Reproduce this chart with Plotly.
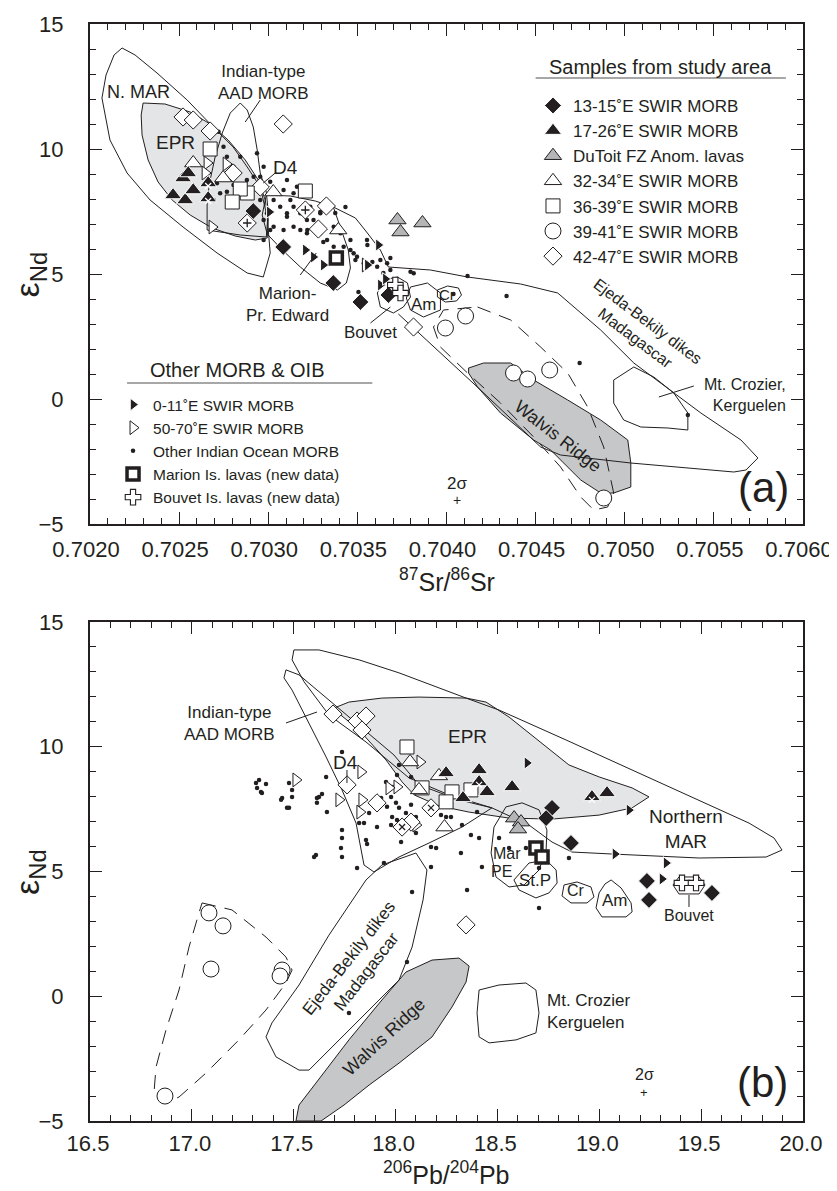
import plotly.graph_objects as go

FONT = "Liberation Sans, Arial, Helvetica, sans-serif"
INK = "#231f20"

# ---------------- axis settings ----------------
SR_RANGE = [0.7020, 0.7060]
PB_RANGE = [16.5, 20.0]
ND_RANGE = [-5, 15]

# ---------------- panel (a): 87Sr/86Sr vs eNd ----------------
A_DIAM_FILL_X = [0.702916, 0.703084, 0.703365, 0.703517, 0.703674]
A_DIAM_FILL_Y = [7.52, 6.08, 4.64, 3.88, 4.16]
A_TRI_FILL_X = [0.702466, 0.702534, 0.702579, 0.702522, 0.702551, 0.702663, 0.702663]
A_TRI_FILL_Y = [8.16, 7.96, 8.36, 8.84, 9.04, 8.64, 8.04]
A_TRI_FILL_MARK = [0, 0, 0, 0, 0, 1, 1]
A_TRI_GRAY_X = [0.703725, 0.703742, 0.703865]
A_TRI_GRAY_Y = [7.16, 6.68, 7.04]
A_TRI_OPEN_X = [0.702579, 0.702747, 0.703028, 0.703393]
A_TRI_OPEN_Y = [9.44, 8.84, 8.28, 6.76]
A_SQ_X = [0.702674, 0.702882, 0.702843, 0.702798, 0.703208]
A_SQ_Y = [10.0, 8.24, 8.4, 7.88, 8.32]
A_CIRC_X = [0.703994, 0.704107, 0.704376, 0.704455, 0.704579, 0.704882]
A_CIRC_Y = [2.84, 3.32, 1.04, 0.80, 1.16, -3.96]
A_DIAM_OPEN_X = [0.702522, 0.702579, 0.702674, 0.703084, 0.702803, 0.702955,
                 0.703326, 0.703208, 0.703281, 0.702882, 0.703815]
A_DIAM_OPEN_Y = [11.28, 11.16, 10.72, 11.0, 9.04, 8.48, 7.72, 7.56, 6.8, 7.04, 2.88]
A_DIAM_OPEN_MARK = [0, 0, 0, 0, 0, 0, 0, 1, 0, 1, 0]
A_RT_FILL_X = [0.703006, 0.703208, 0.703253, 0.703309, 0.703618, 0.703556, 0.703629, 0.703657]
A_RT_FILL_Y = [7.48, 5.96, 5.68, 5.36, 6.16, 5.36, 4.56, 4.8]
A_RT_OPEN_X = [0.702657, 0.702646, 0.702764, 0.702685, 0.703545]
A_RT_OPEN_Y = [9.44, 9.04, 9.4, 6.88, 5.36]
A_MARION_X = [0.703382]
A_MARION_Y = [5.64]
A_BOUVET_X = [0.703713, 0.703742]
A_BOUVET_Y = [4.56, 4.24]
A_DOTS = [
    (0.702721, 10.69), (0.702749, 10.09), (0.702768, 9.69), (0.702843, 9.69), (0.702805, 9.29),
    (0.702937, 9.83), (0.702974, 9.29), (0.702955, 8.89), (0.703011, 8.69), (0.703049, 8.23),
    (0.703086, 8.36), (0.703142, 8.23), (0.703124, 7.96), (0.703142, 7.69), (0.703105, 7.43),
    (0.703067, 7.69), (0.702993, 7.43), (0.702974, 7.16), (0.703030, 6.89), (0.703086, 6.76),
    (0.703142, 6.89), (0.703180, 6.76), (0.703217, 6.63), (0.703254, 7.16), (0.703292, 6.63),
    (0.703330, 6.36), (0.703367, 6.09), (0.703461, 5.96), (0.703479, 5.83), (0.703554, 6.36),
    (0.703629, 5.56), (0.703667, 5.43), (0.703685, 5.16), (0.703461, 6.36), (0.703292, 7.43),
    (0.703236, 7.69), (0.703180, 7.43), (0.703161, 8.49), (0.703105, 8.76), (0.703030, 7.96),
    (0.702955, 7.96), (0.702712, 8.63), (0.702730, 8.23), (0.702693, 7.96), (0.702768, 8.29),
    (0.702805, 8.56), (0.702880, 8.76), (0.702918, 8.89), (0.703011, 6.76), (0.702974, 6.36),
    (0.703105, 7.29), (0.703217, 7.16), (0.703367, 6.89), (0.703405, 6.63), (0.703423, 6.09),
    (0.703498, 5.69), (0.703536, 5.43), (0.703611, 5.29), (0.703798, 5.09), (0.703816, 5.03),
    (0.703433, 7.68), (0.703292, 7.48), (0.703376, 7.44), (0.703219, 6.76), (0.703309, 6.28),
    (0.703556, 6.16), (0.703489, 5.56), (0.703584, 5.48), (0.703685, 5.64), (0.703646, 5.04),
    (0.704118, 4.92), (0.703506, 4.28), (0.704039, 4.20), (0.704337, 4.12), (0.704747, 1.44),
    (0.705354, -0.64),
]

# fields in panel (a)
A_NMAR_X = [0.702180, 0.702253, 0.702376, 0.702545, 0.702691, 0.702803, 0.702882, 0.702955,
            0.702994, 0.703011, 0.702972, 0.702882, 0.702713, 0.702522, 0.702337, 0.702208,
            0.702112, 0.702067, 0.702090, 0.702135]
A_NMAR_Y = [14.04, 13.76, 13.04, 11.96, 10.88, 10.08, 9.28, 8.48, 7.28, 5.84, 4.88, 5.04,
            5.84, 6.88, 7.96, 9.04, 10.36, 12.04, 12.96, 13.76]
A_EPR_X = [0.702298, 0.702421, 0.702562, 0.702674, 0.702775, 0.702871, 0.702944, 0.702983,
           0.703000, 0.702994, 0.702927, 0.702815, 0.702685, 0.702562, 0.702461, 0.702382,
           0.702326, 0.702292, 0.702287]
A_EPR_Y = [11.84, 11.80, 11.48, 11.0, 10.36, 9.56, 8.76, 7.96, 7.16, 6.44, 6.36, 6.52, 6.84,
           7.36, 7.96, 8.68, 9.56, 10.56, 11.36]
A_AAD_X = [0.702843, 0.702882, 0.702916, 0.702938, 0.702955, 0.702989, 0.703000, 0.702989,
           0.702843, 0.702657, 0.702657, 0.702674, 0.702702, 0.702742, 0.702787]
A_AAD_Y = [11.84, 11.56, 10.88, 9.96, 9.04, 8.28, 7.48, 6.48, 6.56, 6.76, 7.96, 8.76, 9.68,
           10.64, 11.44]
A_MPE_X = [0.702989, 0.703124, 0.703264, 0.703365, 0.703410, 0.703449, 0.703461, 0.703438,
           0.703388, 0.703292, 0.703180, 0.703079, 0.702994, 0.702966]
A_MPE_Y = [8.16, 8.12, 7.92, 7.68, 6.76, 5.96, 5.24, 4.64, 4.36, 4.64, 5.28, 5.96, 6.6, 7.36]
A_EJEDA_X = [0.703365, 0.703489, 0.703556, 0.703629, 0.703674, 0.703910, 0.704118, 0.704416,
             0.704624, 0.704865, 0.705051, 0.705427, 0.705652, 0.705747, 0.705680, 0.705612,
             0.705034, 0.704640, 0.704528, 0.704191, 0.703815, 0.703730]
A_EJEDA_Y = [7.68, 7.24, 6.64, 5.96, 5.28, 5.16, 4.88, 4.6, 4.24, 2.76, 1.44, -0.56, -1.64,
             -2.36, -2.84, -2.92, -2.56, -2.24, -1.92, 0.36, 2.84, 3.4]
A_WALVIS_X = [0.704124, 0.704208, 0.704360, 0.704489, 0.704680, 0.704865, 0.705017, 0.705034,
              0.705034, 0.704938, 0.704865, 0.704753, 0.704584, 0.704489, 0.704303, 0.704174,
              0.704124]
A_WALVIS_Y = [1.24, 1.44, 1.44, 0.76, -0.04, -0.84, -1.64, -2.56, -3.52, -3.76, -3.76, -3.24,
              -2.04, -1.64, -0.56, 0.48, 1.04]
A_DASH_X = [0.704174, 0.704360, 0.704528, 0.704680, 0.704792, 0.704882, 0.704938, 0.704904,
            0.704826, 0.704753, 0.704640, 0.704489, 0.704303, 0.704118, 0.703966, 0.703927,
            0.703983]
A_DASH_Y = [3.68, 3.16, 2.08, 1.04, -0.32, -1.92, -3.76, -4.32, -4.44, -3.92, -2.72, -1.52,
            -0.16, 1.04, 2.08, 2.88, 3.56]
A_CROZ_X = [0.704938, 0.705051, 0.705163, 0.705275, 0.705354, 0.705354, 0.705242, 0.705090,
            0.704994, 0.704938]
A_CROZ_Y = [0.76, 1.28, 0.88, 0.24, -0.56, -1.24, -1.16, -1.12, -0.84, -0.16]
A_AM_X = [0.703798, 0.703893, 0.703966, 0.703966, 0.703871, 0.703798, 0.703775]
A_AM_Y = [4.48, 4.64, 4.24, 3.56, 3.28, 3.56, 4.04]
A_CR_X = [0.703949, 0.704006, 0.704067, 0.704084, 0.704056, 0.703994, 0.703949]
A_CR_Y = [4.36, 4.52, 4.44, 4.16, 3.92, 3.88, 4.08]
A_BOUV_X = [0.703646, 0.703725, 0.703781, 0.703798, 0.703758, 0.703702, 0.703629, 0.703612]
A_BOUV_Y = [4.76, 4.88, 4.64, 4.08, 3.68, 3.44, 3.68, 4.24]

# ---------------- panel (b): 206Pb/204Pb vs eNd ----------------
B_DIAM_FILL_X = [18.768, 18.739, 18.861, 19.234, 19.244, 19.553]
B_DIAM_FILL_Y = [7.55, 7.14, 6.14, 4.62, 3.86, 4.14]
B_TRI_FILL_X = [18.248, 18.410, 18.410, 18.449, 18.331, 18.572, 18.964, 19.038]
B_TRI_FILL_Y = [8.95, 9.07, 8.59, 8.19, 7.95, 8.39, 7.99, 8.15]
B_TRI_FILL_MARK = [0, 0, 1, 0, 0, 0, 1, 0]
B_TRI_GRAY_X = [18.582, 18.616, 18.601]
B_TRI_GRAY_Y = [7.14, 6.98, 6.70]
B_TRI_OPEN_X = [18.071, 18.213, 18.115, 18.240]
B_TRI_OPEN_Y = [9.39, 8.83, 8.27, 6.78]
B_SQ_X = [18.056, 18.130, 18.277, 18.248, 18.370]
B_SQ_Y = [9.99, 8.35, 8.19, 7.79, 8.27]
B_CIRC_X = [17.084, 17.153, 17.094, 17.443, 17.433, 16.868]
B_CIRC_Y = [3.34, 2.82, 1.09, 1.05, 0.81, -4.0]
B_DIAM_OPEN_X = [17.693, 17.811, 17.855, 17.835, 17.762, 17.909, 18.076, 18.032, 18.174, 18.346]
B_DIAM_OPEN_Y = [11.31, 11.03, 11.23, 10.67, 8.47, 7.75, 6.98, 6.78, 7.55, 2.86]
B_DIAM_OPEN_MARK = [0, 0, 0, 0, 0, 0, 0, 1, 1, 0]
B_RT_FILL_X = [18.645, 19.146, 19.077, 19.328, 19.308]
B_RT_FILL_Y = [9.35, 7.46, 5.70, 5.34, 4.70]
B_RT_OPEN_X = [17.511, 17.830, 17.722, 17.835, 17.825, 18.007, 17.968, 18.100, 18.120]
B_RT_OPEN_Y = [8.67, 8.99, 7.87, 7.87, 7.38, 8.39, 8.35, 6.86, 9.39]
B_MARION_X = [18.689, 18.719]
B_MARION_Y = [5.94, 5.58]
B_BOUVET_X = [19.406, 19.475]
B_BOUVET_Y = [4.54, 4.54]
B_DOTS = [
    (17.315, 8.55), (17.320, 8.35), (17.339, 8.19), (17.364, 8.51), (17.477, 8.55),
    (17.492, 8.27), (17.443, 7.95), (17.477, 7.55), (17.624, 7.99), (17.639, 8.11),
    (17.663, 7.38), (17.659, 8.79), (17.737, 9.79), (17.737, 6.66), (17.737, 6.34),
    (17.855, 6.26), (17.860, 6.10), (17.821, 6.94), (17.609, 5.66), (17.811, 5.14),
    (17.943, 5.34), (18.017, 9.27), (18.007, 8.87), (18.076, 8.79), (17.953, 8.59),
    (17.983, 8.39), (17.929, 7.95), (17.978, 7.99), (18.002, 7.75), (17.904, 7.67),
    (17.958, 7.59), (18.017, 7.55), (18.051, 7.34), (18.076, 7.67), (18.100, 7.18),
    (17.983, 7.18), (18.007, 7.06), (17.870, 7.34), (17.909, 6.78), (17.845, 6.94),
    (17.978, 6.86), (18.100, 6.54), (18.174, 5.98), (18.027, 6.18), (17.732, 5.94),
    (17.600, 5.58), (18.248, 7.18), (18.272, 7.18), (18.223, 7.26), (17.614, 7.95),
    (17.467, 7.55), (17.492, 7.99), (17.438, 7.87), (17.330, 8.67), (17.344, 8.15),
    (18.400, 7.38), (18.326, 6.86), (18.370, 6.46), (18.410, 6.34), (18.321, 5.74),
    (18.508, 6.34), (18.424, 5.18), (18.557, 5.94), (18.851, 5.54), (18.351, 4.26),
    (18.704, 3.54), (18.081, 4.18), (18.056, 1.37), (17.771, -0.67), (18.174, 5.18),
    (18.199, 5.94), (18.640, 5.94), (18.704, 5.14), (17.614, 7.75), (17.737, 5.58),
]

# fields in panel (b)
B_NMAR_X = [17.501, 17.624, 17.821, 18.017, 18.346, 18.508, 18.837, 19.161, 19.490, 19.735,
            19.858, 19.897, 19.819, 19.490, 19.063, 18.866, 18.768, 18.655, 18.473, 18.262,
            18.066, 17.855, 17.673, 17.551, 17.492]
B_NMAR_Y = [13.88, 13.88, 13.48, 12.96, 11.95, 11.47, 10.27, 9.07, 7.87, 6.94, 6.34, 5.86,
            5.58, 5.54, 5.70, 5.78, 6.18, 6.86, 7.55, 8.07, 8.75, 10.19, 11.27, 12.60, 13.48]
B_AAD_X = [17.462, 17.526, 17.673, 17.845, 17.992, 18.115, 18.311, 18.473, 18.326, 18.164,
           18.017, 17.894, 17.845, 17.806, 17.737, 17.659, 17.575, 17.492, 17.452]
B_AAD_Y = [13.08, 12.88, 11.87, 10.67, 9.67, 8.47, 7.87, 7.55, 6.78, 6.14, 5.58, 4.98, 5.26,
           6.94, 8.27, 9.59, 10.95, 12.27, 12.76]
B_EPR_X = [17.698, 17.771, 17.933, 18.115, 18.346, 18.444, 18.557, 18.719, 18.851, 18.999,
           19.161, 19.244, 19.161, 18.999, 18.768, 18.557, 18.361, 18.213, 18.091, 18.032,
           17.953, 17.821, 17.713]
B_EPR_Y = [11.55, 11.79, 11.95, 11.99, 11.95, 11.79, 11.19, 10.15, 9.27, 8.79, 8.35, 7.99,
           7.55, 7.26, 7.10, 7.14, 7.38, 7.63, 8.07, 8.59, 9.47, 10.67, 11.39]
B_EJEDA_X = [17.855, 17.933, 18.100, 18.154, 18.135, 18.081, 18.017, 17.855, 17.688, 17.575,
             17.526, 17.413, 17.364, 17.393, 17.526, 17.673]
B_EJEDA_Y = [4.66, 5.26, 5.74, 5.06, 3.86, 1.97, 0.65, -0.67, -2.03, -2.96, -2.96, -2.43,
             -1.63, -1.07, 0.45, 2.45]
B_WALVIS_X = [17.511, 17.526, 17.609, 17.771, 17.933, 18.051, 18.179, 18.311, 18.361, 18.346,
              18.277, 18.179, 18.017, 17.870, 17.747, 17.634]
B_WALVIS_Y = [-5.0, -4.36, -3.48, -1.75, -0.15, 0.97, 1.45, 1.53, 1.21, 0.57, -0.43, -1.63,
              -2.68, -3.56, -4.36, -5.0]
B_CROZ_X = [18.410, 18.508, 18.640, 18.689, 18.704, 18.689, 18.591, 18.459, 18.410, 18.400]
B_CROZ_Y = [0.25, 0.45, 0.53, 0.25, -0.67, -1.47, -1.75, -1.87, -1.63, -0.67]
B_MPE_X = [18.542, 18.621, 18.704, 18.743, 18.739, 18.704, 18.631, 18.557, 18.493, 18.469, 18.483]
B_MPE_Y = [7.59, 7.75, 7.47, 6.66, 5.86, 5.06, 4.46, 4.38, 4.78, 5.74, 6.78]
B_STP_X = [18.655, 18.739, 18.788, 18.793, 18.753, 18.689, 18.606, 18.581]
B_STP_Y = [5.34, 5.46, 5.06, 4.54, 4.14, 3.94, 4.26, 4.66]
B_CR_X = [18.827, 18.891, 18.959, 18.974, 18.940, 18.861, 18.817]
B_CR_Y = [4.46, 4.58, 4.38, 3.98, 3.74, 3.74, 4.02]
B_AM_X = [19.058, 19.107, 19.156, 19.161, 19.131, 19.013, 18.984, 18.999, 19.028]
B_AM_Y = [4.66, 4.34, 3.74, 3.38, 3.18, 3.18, 3.54, 4.14, 4.50]
B_BOUV_X = [19.391, 19.490, 19.519, 19.490, 19.391, 19.362]
B_BOUV_Y = [4.78, 4.78, 4.46, 4.10, 4.10, 4.46]
B_DASH_X = [17.050, 17.197, 17.364, 17.462, 17.492, 17.462, 17.364, 17.231, 17.069, 16.937,
            16.873, 16.814, 16.824, 16.873, 16.937, 16.986, 17.035]
B_DASH_Y = [3.74, 3.46, 2.37, 1.57, 1.05, 0.53, -0.55, -1.75, -3.08, -4.04, -4.28, -3.88,
            -2.84, -1.35, 0.25, 1.97, 3.34]

# ---------------- figure ----------------
fig = go.Figure()

EPR_GRAY = "#e4e5e6"
WALVIS_GRAY = "#c6c7c8"
SYM_GRAY = "#b4b5b6"


def field(xs, ys, ax, fill=None, dash=None, closed=True):
    xs = list(xs) + (list(xs[:1]) if closed else [])
    ys = list(ys) + (list(ys[:1]) if closed else [])
    fig.add_trace(go.Scatter(
        x=xs, y=ys, mode="lines", xaxis="x" + ax, yaxis="y" + ax,
        line=dict(color=INK, width=1, dash=dash),
        fill="toself" if fill else "none", fillcolor=fill,
        showlegend=False, hoverinfo="skip"))


# panel (a) fields
field(A_EPR_X, A_EPR_Y, "", fill=EPR_GRAY)
field(A_WALVIS_X, A_WALVIS_Y, "", fill=WALVIS_GRAY)
field(A_NMAR_X, A_NMAR_Y, "")
field(A_AAD_X, A_AAD_Y, "")
field(A_MPE_X, A_MPE_Y, "")
field(A_EJEDA_X, A_EJEDA_Y, "", closed=False)
field(A_DASH_X, A_DASH_Y, "", dash="14px,9px")
field(A_CROZ_X, A_CROZ_Y, "")
field(A_AM_X, A_AM_Y, "")
field(A_CR_X, A_CR_Y, "")
field(A_BOUV_X, A_BOUV_Y, "")

# panel (b) fields
field(B_EPR_X, B_EPR_Y, "2", fill=EPR_GRAY)
field(B_WALVIS_X, B_WALVIS_Y, "2", fill=WALVIS_GRAY)
field(B_NMAR_X, B_NMAR_Y, "2")
field(B_AAD_X, B_AAD_Y, "2")
field(B_EJEDA_X, B_EJEDA_Y, "2")
field(B_CROZ_X, B_CROZ_Y, "2")
field(B_MPE_X, B_MPE_Y, "2")
field(B_STP_X, B_STP_Y, "2")
field(B_CR_X, B_CR_Y, "2")
field(B_AM_X, B_AM_Y, "2")
field(B_BOUV_X, B_BOUV_Y, "2")
field(B_DASH_X, B_DASH_Y, "2", dash="14px,9px")

# ---------------- symbol series ----------------
# name, symbol, fill, line colour, line width, size, legend, rank, (a) data, (b) data
SERIES = [
    ("Other Indian Ocean MORB", "circle", INK, INK, 0, 4.5, "legend2", 3,
     ([p[0] for p in A_DOTS], [p[1] for p in A_DOTS]),
     ([p[0] for p in B_DOTS], [p[1] for p in B_DOTS])),
    ("50-70˚E SWIR MORB", "triangle-right", "white", INK, 1, 12, "legend2", 2,
     (A_RT_OPEN_X, A_RT_OPEN_Y), (B_RT_OPEN_X, B_RT_OPEN_Y)),
    ("42-47˚E SWIR MORB", "diamond", "white", INK, 1, 14, "legend", 7,
     (A_DIAM_OPEN_X, A_DIAM_OPEN_Y), (B_DIAM_OPEN_X, B_DIAM_OPEN_Y)),
    ("36-39˚E SWIR MORB", "square", "white", INK, 1, 14, "legend", 5,
     (A_SQ_X, A_SQ_Y), (B_SQ_X, B_SQ_Y)),
    ("32-34˚E SWIR MORB", "triangle-up", "white", INK, 1, 15, "legend", 4,
     (A_TRI_OPEN_X, A_TRI_OPEN_Y), (B_TRI_OPEN_X, B_TRI_OPEN_Y)),
    ("39-41˚E SWIR MORB", "circle", "white", INK, 1, 16, "legend", 6,
     (A_CIRC_X, A_CIRC_Y), (B_CIRC_X, B_CIRC_Y)),
    ("DuToit FZ Anom. lavas", "triangle-up", SYM_GRAY, INK, 1, 15, "legend", 3,
     (A_TRI_GRAY_X, A_TRI_GRAY_Y), (B_TRI_GRAY_X, B_TRI_GRAY_Y)),
    ("17-26˚E SWIR MORB", "triangle-up", INK, "white", 1, 15, "legend", 2,
     (A_TRI_FILL_X, A_TRI_FILL_Y), (B_TRI_FILL_X, B_TRI_FILL_Y)),
    ("13-15˚E SWIR MORB", "diamond", INK, "white", 1, 13, "legend", 1,
     (A_DIAM_FILL_X, A_DIAM_FILL_Y), (B_DIAM_FILL_X, B_DIAM_FILL_Y)),
    ("0-11˚E SWIR MORB", "triangle-right", INK, "white", 1, 11, "legend2", 1,
     (A_RT_FILL_X, A_RT_FILL_Y), (B_RT_FILL_X, B_RT_FILL_Y)),
    ("Marion Is. lavas (new data)", "square", "white", INK, 3.5, 12, "legend2", 4,
     (A_MARION_X, A_MARION_Y), (B_MARION_X, B_MARION_Y)),
    ("Bouvet Is. lavas (new data)", "cross", "white", INK, 1.1, 13, "legend2", 5,
     (A_BOUVET_X, A_BOUVET_Y), (B_BOUVET_X, B_BOUVET_Y)),
]

for name, sym, col, lcol, lw, size, leg, rank, da, db in SERIES:
    for ax, (xs, ys) in (("", da), ("2", db)):
        fig.add_trace(go.Scatter(
            x=xs, y=ys, mode="markers", name=name,
            xaxis="x" + ax, yaxis="y" + ax,
            marker=dict(symbol=sym, color=col, size=size, line=dict(color=lcol, width=lw)),
            legend=leg, legendrank=rank, legendgroup=name,
            showlegend=(ax == ""), hoverinfo="skip"))


def marks(xs, ys, flags, ax, sym, col):
    fig.add_trace(go.Scatter(
        x=[x for x, f in zip(xs, flags) if f], y=[y for y, f in zip(ys, flags) if f],
        mode="markers", xaxis="x" + ax, yaxis="y" + ax,
        marker=dict(symbol=sym, size=6, color=col, line=dict(color=col, width=1.3)),
        showlegend=False, hoverinfo="skip"))


marks(A_TRI_FILL_X, [y - 0.12 for y in A_TRI_FILL_Y], A_TRI_FILL_MARK, "", "x-thin", "white")
marks(B_TRI_FILL_X, [y - 0.12 for y in B_TRI_FILL_Y], B_TRI_FILL_MARK, "2", "x-thin", "white")
marks(A_DIAM_OPEN_X, A_DIAM_OPEN_Y, A_DIAM_OPEN_MARK, "", "cross-thin", INK)
marks(B_DIAM_OPEN_X, B_DIAM_OPEN_Y, B_DIAM_OPEN_MARK, "2", "x-thin", INK)

# ---------------- annotations ----------------
def note(text, xd, yd, ax="", size=17, angle=0, xanchor="center", align="center",
         xref=None, yref=None):
    fig.add_annotation(text=text, x=xd, y=yd, xref=xref or f"x{ax} domain",
                       yref=yref or f"y{ax} domain",
                       showarrow=False, textangle=angle, xanchor=xanchor, yanchor="middle",
                       align=align, font=dict(family=FONT, size=size, color=INK))


def pointer(x0, y0, x1, y1, ax="", color=INK, width=1):
    fig.add_shape(type="line", x0=x0, y0=y0, x1=x1, y1=y1,
                  xref=f"x{ax} domain", yref=f"y{ax} domain",
                  line=dict(color=color, width=width))


# axis titles
note("<sup>87</sup>Sr/<sup>86</sup>Sr", 0.5, -0.112, size=25)
note("<sup>206</sup>Pb/<sup>204</sup>Pb", 0.5, -0.104, ax="2", size=25)
note("ε<sub>Nd</sub>", -0.085, 0.5, size=34, angle=-90, xref="paper")
note("ε<sub>Nd</sub>", -0.085, 0.5, ax="2", size=34, angle=-90, xref="paper")

# panel (a)
note("N. MAR", 0.0674, 0.864, size=18)
note("EPR", 0.1194, 0.764, size=19)
note("Indian-type<br>AAD MORB", 0.243, 0.884, size=17)
note("D4", 0.2739, 0.714, size=19)
note("Marion-<br>Pr. Edward", 0.2767, 0.44, size=17)
note("Bouvet", 0.3933, 0.384, size=17)
note("Am", 0.4691, 0.44, size=17)
note("Cr", 0.5014, 0.46, size=15)
note("Ejeda-Bekily dikes<br>Madagascar", 0.7739, 0.388, size=16, angle=37)
note("Walvis Ridge", 0.6559, 0.176, size=18, angle=38)
note("Mt. Crozier,<br>Kerguelen", 0.979, 0.258, size=16, xanchor="right", align="right")
note("2σ", 0.5154, 0.082, size=17)
note("+", 0.5154, 0.048, size=14)
note("(a)", 0.9452, 0.074, size=42)
note("Samples from study area", 0.8006, 0.914, size=20)
note("Other MORB &amp; OIB", 0.2065, 0.308, size=20)
pointer(0.2177, 0.804, 0.2388, 0.848)
pointer(0.2598, 0.702, 0.243, 0.682)
pointer(0.2949, 0.498, 0.3174, 0.542)
pointer(0.3933, 0.402, 0.4213, 0.434)
pointer(0.7978, 0.254, 0.8469, 0.276)
pointer(0.625, 0.892, 0.976, 0.892, color="#8a8a8a", width=1.5)
pointer(0.052, 0.282, 0.396, 0.282, color="#8a8a8a", width=1.5)

# panel (b)
note("Indian-type<br>AAD MORB", 0.195, 0.7956, ax="2", size=17)
note("D4", 0.359, 0.7174, ax="2", size=19)
note("EPR", 0.5288, 0.7715, ax="2", size=19)
note("Northern<br>MAR", 0.8359, 0.5852, ax="2", size=19)
note("Mar", 0.5849, 0.536, ax="2", size=16)
note("PE", 0.5778, 0.499, ax="2", size=16)
note("St.P", 0.6241, 0.481, ax="2", size=17)
note("Cr", 0.6816, 0.461, ax="2", size=16)
note("Am", 0.7363, 0.441, ax="2", size=17)
note("Bouvet", 0.8401, 0.4128, ax="2", size=16)
note("Mt. Crozier<br>Kerguelen", 0.6381, 0.2204, ax="2", size=17, xanchor="left", align="left")
note("Walvis Ridge", 0.4123, 0.1683, ax="2", size=18, angle=-43)
note("Ejeda-Bekily dikes<br>Madagascar", 0.3745, 0.3126, ax="2", size=17, angle=-52)
note("2σ", 0.777, 0.0922, ax="2", size=16)
note("+", 0.777, 0.058, ax="2", size=13)
note("(b)", 0.9425, 0.078, ax="2", size=42)
pointer(0.2749, 0.7976, 0.3184, 0.8196, ax="2")
pointer(0.3604, 0.7034, 0.3604, 0.6774, ax="2")
pointer(0.8401, 0.4529, 0.8401, 0.4289, ax="2")

# ---------------- axes & layout ----------------
def axis_style(**kw):
    d = dict(showline=True, linecolor=INK, linewidth=2, mirror="ticks", ticks="inside",
             ticklen=12, tickwidth=1.3, tickcolor=INK, showgrid=False, zeroline=False,
             automargin=False,
             tickfont=dict(family=FONT, size=22, color=INK),
             minor=dict(ticks="inside", ticklen=6, tickwidth=1.2, tickcolor=INK, showgrid=False))
    d.update(kw)
    return d


# the page body keeps an 8 px default margin, so the figure is sized to the remaining area
fig.update_layout(
    template="none",
    width=829, height=1183, autosize=False,
    margin=dict(l=82, r=34, t=16, b=70, pad=0),
    paper_bgcolor="white", plot_bgcolor="white",
    font=dict(family=FONT, color=INK),
    xaxis=axis_style(domain=[0, 1], anchor="y", range=SR_RANGE, tick0=0.702, dtick=0.0005,
                     tickformat=".4f", ticklabelstandoff=5, ticklabelshift=-4,
                     minor_dtick=0.0001),
    yaxis=axis_style(domain=[0.5442, 1], anchor="x", range=ND_RANGE, tick0=0, dtick=5,
                     ticklabelstandoff=20, minor_dtick=1),
    xaxis2=axis_style(domain=[0, 1], anchor="y2", range=PB_RANGE, tick0=16.5, dtick=0.5,
                      tickformat=".1f", ticklabelstandoff=2, ticklabelshift=-2,
                      minor_dtick=0.1),
    yaxis2=axis_style(domain=[0, 0.4549], anchor="x2", range=ND_RANGE, tick0=0, dtick=5,
                      ticklabelstandoff=20, minor_dtick=1),
    legend=dict(x=0.6213, y=0.9417, xanchor="left", yanchor="top", bgcolor="rgba(0,0,0,0)",
                font=dict(family=FONT, size=17, color=INK), itemwidth=30,
                traceorder="normal", tracegroupgap=0, itemclick=False),
    legend2=dict(x=0.0323, y=0.6682, xanchor="left", yanchor="top", bgcolor="rgba(0,0,0,0)",
                 font=dict(family=FONT, size=15.5, color=INK), itemwidth=30,
                 traceorder="normal", tracegroupgap=0, itemclick=False),
    showlegend=True,
)

fig.write_html("out.html", config=dict(displayModeBar=False))
